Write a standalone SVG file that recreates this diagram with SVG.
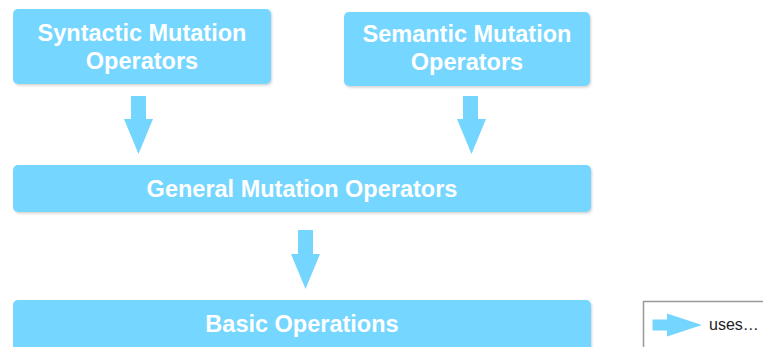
<svg xmlns="http://www.w3.org/2000/svg" width="763" height="347" viewBox="0 0 763 347">
  <defs>
    <filter id="shadow" x="-5%" y="-10%" width="110%" height="130%">
      <feDropShadow dx="1" dy="1.5" stdDeviation="1" flood-color="#000" flood-opacity="0.18"/>
    </filter>
  </defs>
  <style>
    .box { fill: #74D6FF; filter: url(#shadow); }
    .label { fill: #ffffff; font-family: "Liberation Sans", Arial, sans-serif; font-weight: bold; font-size: 23.5px; text-anchor: middle; }
    .arrow { fill: #74D6FF; }
    .legend-frame { fill: #ffffff; stroke: #999999; stroke-width: 1.5; }
    .legend-text { fill: #222222; font-family: "Liberation Sans", Arial, sans-serif; font-size: 16px; }
  </style>
  <rect width="763" height="347" fill="#ffffff"/>

  <g id="syntactic">
    <rect class="box" x="13" y="9" width="258" height="75" rx="5"/>
    <text class="label" x="142" y="41">Syntactic Mutation</text>
    <text class="label" x="142" y="69">Operators</text>
  </g>

  <g id="semantic">
    <rect class="box" x="344" y="12" width="246" height="74" rx="5"/>
    <text class="label" x="467" y="42">Semantic Mutation</text>
    <text class="label" x="467" y="70">Operators</text>
  </g>

  <g id="general">
    <rect class="box" x="13" y="165" width="578" height="47" rx="5"/>
    <text class="label" x="302" y="197">General Mutation Operators</text>
  </g>

  <g id="basic">
    <rect class="box" x="13" y="300" width="578" height="60" rx="5"/>
    <text class="label" x="302" y="332">Basic Operations</text>
  </g>

  <g id="connectors">
    <!-- syntactic -> general -->
    <polygon class="arrow" points="131,96 146,96 146,119 153,119 138.5,154 124,119 131,119"/>
    <!-- semantic -> general -->
    <polygon class="arrow" points="463,96 478,96 478,119 486,119 471.5,154 457,119 463,119"/>
    <!-- general -> basic -->
    <polygon class="arrow" points="298,230 313,230 313,254 320,254 305.5,289 291,254 298,254"/>
  </g>

  <g id="legend">
    <rect class="legend-frame" x="643.5" y="301.5" width="130" height="60"/>
    <polygon class="arrow" points="652.5,319.5 667,319.5 667,313.5 702,325 667,336.5 667,330.5 652.5,330.5"/>
    <text class="legend-text" x="709" y="330">uses…</text>
  </g>
</svg>
